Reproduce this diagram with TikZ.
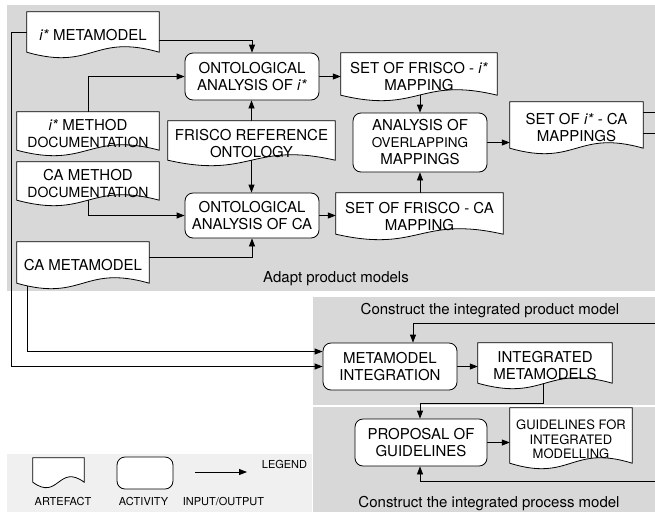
\documentclass[tikz,border=0pt]{standalone}
\usepackage{fontspec}
\setmainfont{TeX Gyre Heros}
\usetikzlibrary{arrows.meta,calc}

\pgfdeclarelayer{panel}
\pgfdeclarelayer{conn}
\pgfdeclarelayer{shape}
\pgfsetlayers{panel,conn,shape,main}

\definecolor{panelgray}{RGB}{216,216,216}
\definecolor{legendgray}{RGB}{240,240,240}

% text of an artefact, set a little below the middle of its box
\newcommand\doclines[1]{\raisebox{-5pt}[\height][\depth]{\begin{tabular}{@{}c@{}}#1\end{tabular}}}

% outline of an artefact: flat top, wavy bottom edge
\newcommand\artefactoutline[1]{%
  \begin{pgfonlayer}{shape}
    \draw[outline] (#1.south west) -- (#1.north west) -- (#1.north east) -- (#1.south east)
      .. controls ($(#1.south)+(0,-19)$) and ($(#1.south)+(0,19)$) .. (#1.south west) -- cycle;
  \end{pgfonlayer}}

\tikzset{
  x=1pt, y=-1pt,
  outline/.style={draw=black, fill=white, line width=0.8pt},
  artefact/.style={inner sep=0pt, font=\fontsize{15}{17}\selectfont},
  activity/.style={outline, rounded corners=8pt, inner sep=0pt, align=center,
    font=\fontsize{15}{17}\selectfont},
  flow/.style={draw=black, line width=0.8pt, -{Triangle[length=8pt,width=6pt]}},
  plainline/.style={draw=black, line width=0.8pt},
  caption/.style={font=\fontsize{15}{17}\selectfont, inner sep=0pt},
  legendtext/.style={font=\fontsize{11}{13}\selectfont, inner sep=0pt},
}

\begin{document}
\begin{tikzpicture}
\useasboundingbox (0,0) rectangle (655,512);

% background panels
\begin{pgfonlayer}{panel}
  \fill[white] (0,0) rectangle (655,512);
  \fill[panelgray] (7,5) rectangle (655,291);
  \fill[panelgray] (313,297) rectangle (655,405);
  \fill[panelgray] (313,407) rectangle (655,512);
  \fill[legendgray] (7,454) rectangle (312,512);
\end{pgfonlayer}

% artefacts
\node[artefact, minimum width=132pt, minimum height=40pt] (metai) at (93,32)
  {\doclines{\textit{i*} METAMODEL}};
\node[artefact, minimum width=142pt, minimum height=38pt] (imethod) at (88,131)
  {\doclines{\textit{i*} METHOD\\{\fontsize{14}{17}\selectfont DOCUMENTATION}}};
\node[artefact, minimum width=167pt, minimum height=39pt] (frisco) at (251.5,140.5)
  {\doclines{FRISCO REFERENCE\\ONTOLOGY}};
\node[artefact, minimum width=142pt, minimum height=38pt] (camethod) at (88,181)
  {\doclines{CA METHOD\\{\fontsize{14}{17}\selectfont DOCUMENTATION}}};
\node[artefact, minimum width=132pt, minimum height=41pt] (cameta) at (83,262.5)
  {\doclines{CA METAMODEL}};
\node[artefact, minimum width=156pt, minimum height=42pt] (setfi) at (419,74)
  {\doclines{SET OF FRISCO - \textit{i*}\\MAPPING}};
\node[artefact, minimum width=133pt, minimum height=46pt] (setica) at (576.5,125)
  {\doclines{SET OF \textit{i*} - CA\\MAPPINGS}};
\node[artefact, minimum width=167pt, minimum height=41pt] (setfca) at (419.5,213.5)
  {\doclines{SET OF FRISCO - CA\\MAPPING}};
\node[artefact, minimum width=134pt, minimum height=40pt] (intmeta) at (545,363)
  {\doclines{INTEGRATED\\METAMODELS}};
\node[artefact, minimum width=122pt, minimum height=55pt, font=\fontsize{13}{14.5}\selectfont] (guide) at (571,435.5)
  {\raisebox{-6pt}[\height][\depth]{\begin{tabular}{@{}c@{}}GUIDELINES FOR\\INTEGRATED\\MODELLING\end{tabular}}};

\foreach \n in {metai,imethod,frisco,camethod,cameta,setfi,setica,setfca,intmeta,guide}
  {\artefactoutline{\n}}

% activities
\node[activity, minimum width=134pt, minimum height=47pt] (onti) at (252,76.5)
  {ONTOLOGICAL\\ANALYSIS OF \textit{i*}};
\node[activity, minimum width=134pt, minimum height=45pt] (ontca) at (252,215.5)
  {ONTOLOGICAL\\ANALYSIS OF CA};
\node[activity, minimum width=134pt, minimum height=59pt] (analysis) at (420,142.5)
  {ANALYSIS OF\\{\fontsize{13.5}{17}\selectfont OVERLAPPING}\\MAPPINGS};
\node[activity, minimum width=134pt, minimum height=47pt] (mmint) at (390,366.5)
  {METAMODEL\\INTEGRATION};
\node[activity, minimum width=132pt, minimum height=47pt] (prop) at (421,442.5)
  {PROPOSAL OF\\GUIDELINES};

% panel captions
\node[caption] (capAdapt) at (336,279) {Adapt product models};
\node[caption] (capProduct) at (490,311) {Construct the integrated product model};
\node[caption] (capProcess) at (489,504) {Construct the integrated process model};

% connector ends at the right border
\coordinate (exitA) at (655,112);
\coordinate (exitB) at (655,133);
\coordinate (entryA) at (655,323);
\coordinate (entryB) at (655,481);

% inputs and outputs
\begin{pgfonlayer}{conn}
  \draw[flow] ([yshift=-8pt]metai.east) -| (onti.north);
  \draw[flow] (imethod.north) |- (onti.west);
  \draw[flow] (frisco.north) -- (frisco.north |- onti.south);
  \draw[flow] (frisco.south) -- (frisco.south |- ontca.north);
  \draw[flow] (camethod.south) |- (ontca.west);
  \draw[flow] ([yshift=5.5pt]cameta.east) -| (ontca.south);
  \draw[flow] (onti.east) -- (onti.east -| setfi.west);
  \draw[flow] (ontca.east) -- (ontca.east -| setfca.west);
  \draw[flow] (analysis.north |- setfi.south) -- (analysis.north);
  \draw[flow] (analysis.south |- setfca.north) -- (analysis.south);
  \draw[flow] (analysis.east) -- (analysis.east -| setica.west);
  \draw[plainline] ([yshift=13pt]setica.east) -- (exitA);
  \draw[plainline] ([yshift=-8pt]setica.east) -- (exitB);
  \draw[flow] (entryA) -| ([xshift=23pt]mmint.north);
  \draw[flow] (entryB) -| ([xshift=-1pt]prop.south);
  \draw[flow] (metai.west) -- ++(-15,0) |- (mmint.west);
  \draw[flow] ([xshift=11pt]cameta.south west) |- ([yshift=15pt]mmint.west);
  \draw[flow] (mmint.east) -- (mmint.east -| intmeta.west);
  \draw[flow] ([xshift=-2pt]intmeta.south) -- ++(0,20) -| ([xshift=-1pt]prop.north);
  \draw[flow] (prop.east) -- (prop.east -| guide.west);
\end{pgfonlayer}

% legend
\node[artefact, minimum width=51pt, minimum height=24pt] (legArt) at (58.5,470) {};
\artefactoutline{legArt}
\node[activity, minimum width=56pt, minimum height=32pt] (legAct) at (145,473) {};
\coordinate (legFrom) at (195,472);
\coordinate (legTo) at (247,472);
\draw[flow] (legFrom) -- (legTo);
\node[legendtext] (legTitle) at (284.5,464) {LEGEND};
\node[legendtext] (legArtLbl) at (63,501.5) {ARTEFACT};
\node[legendtext] (legActLbl) at (143.5,501.5) {ACTIVITY};
\node[legendtext] (legFlowLbl) at (223.5,501.5) {INPUT/OUTPUT};
\end{tikzpicture}
\end{document}
